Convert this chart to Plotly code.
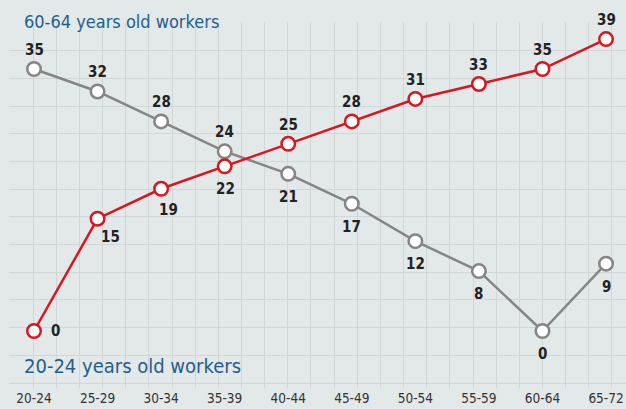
import plotly.graph_objects as go

categories = ["20-24", "25-29", "30-34", "35-39", "40-44", "45-49", "50-54", "55-59", "60-64", "65-72"]
workers_60_64 = [35, 32, 28, 24, 21, 17, 12, 8, 0, 9]
workers_20_24 = [0, 15, 19, 22, 25, 28, 31, 33, 35, 39]
label_60_64 = "60-64 years old workers"
label_20_24 = "20-24 years old workers"

# label offsets in pixels (dx, dy) relative to each point
off_60_64 = [(0, 19)] * 4 + [(0, -23)] * 6
off_20_24 = [(21, 0), (13, -18), (7, -21), (1, -23)] + [(0, 19)] * 6

BG = "#e3e8e8"
GRID = "#d1d6d7"
GRAY = "#858585"
RED = "#d9161f"
BLUE = "#1f5f8e"
COND = "DejaVu Sans Condensed, Roboto, sans-serif"

idx = list(range(len(categories)))

fig = go.Figure()
# grid carrier (empty) on overlay axes
fig.add_trace(go.Scatter(x=[], y=[], xaxis="x2", yaxis="y2", showlegend=False, hoverinfo="skip"))

for vals, col in [(workers_60_64, GRAY), (workers_20_24, RED)]:
    fig.add_trace(go.Scatter(
        x=idx, y=vals, mode="lines+markers",
        line=dict(color=col, width=2.5),
        marker=dict(size=13.5, color="white", line=dict(color=col, width=2.5)),
        showlegend=False, hoverinfo="skip", cliponaxis=False,
    ))

annotations = []
for vals, offs in [(workers_60_64, off_60_64), (workers_20_24, off_20_24)]:
    for i, (v, (dx, dy)) in enumerate(zip(vals, offs)):
        annotations.append(dict(
            x=i, y=v, xref="x", yref="y", text=str(v), showarrow=False,
            xshift=dx, yshift=dy, xanchor="center", yanchor="middle",
            font=dict(family=COND, size=15, color="#222222", weight="bold"),
        ))

annotations.append(dict(
    x=0, y=1, xref="paper", yref="paper", text=label_60_64, showarrow=False,
    xanchor="left", yanchor="middle", xshift=13, yshift=1,
    font=dict(family=COND, size=18, color=BLUE),
))
annotations.append(dict(
    x=0, y=0, xref="paper", yref="paper", text=label_20_24, showarrow=False,
    xanchor="left", yanchor="middle", xshift=13, yshift=22,
    font=dict(family=COND, size=20, color=BLUE),
))

fig.update_layout(
    width=626, height=409,
    margin=dict(l=9, r=0, t=22, b=21, pad=0),
    paper_bgcolor=BG, plot_bgcolor=BG,
    showlegend=False,
    xaxis=dict(
        range=[-0.3933, 9.314], tickmode="array", tickvals=idx, ticktext=categories,
        showgrid=False, zeroline=False, showline=False, ticks="",
        tickfont=dict(family=COND, size=13.5, color="#333333"),
    ),
    yaxis=dict(range=[-7.614, 41.28], showgrid=False, zeroline=False,
               showticklabels=False, showline=False, ticks=""),
    xaxis2=dict(overlaying="x", anchor="y2", range=[0, 617], tick0=1, dtick=23.15,
                showgrid=True, gridcolor=GRID, gridwidth=1, zeroline=False,
                showticklabels=False, ticks="", showline=False),
    yaxis2=dict(overlaying="y", anchor="x2", range=[0, 366], tick0=5, dtick=27.7,
                showgrid=True, gridcolor=GRID, gridwidth=1, zeroline=False,
                showticklabels=False, ticks="", showline=False),
    annotations=annotations,
)

fig.write_html(
    "out.html",
    config={"displayModeBar": False},
    post_script="document.body.style.margin='0';document.body.style.overflow='hidden';",
)
